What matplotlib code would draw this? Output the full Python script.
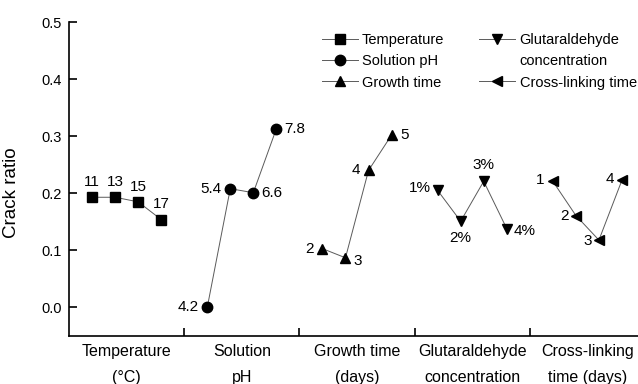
import matplotlib
matplotlib.use("Agg")
import matplotlib.pyplot as plt
from matplotlib.lines import Line2D
import numpy as np

plt.rcParams['font.family'] = ['Liberation Sans', 'DejaVu Sans']

groups = ["Temperature\n(°C)", "Solution\npH", "Growth time\n(days)",
          "Glutaraldehyde\nconcentration", "Cross-linking\ntime (days)"]
series_names = ["Temperature", "Solution pH", "Growth time",
                "Glutaraldehyde", "Cross-linking time"]
markers = ["s", "o", "^", "v", "<"]

temp_vals = [0.193, 0.193, 0.185, 0.154]
temp_labels = ["11", "13", "15", "17"]
ph_vals = [0.000, 0.208, 0.201, 0.313]
ph_labels = ["4.2", "5.4", "6.6", "7.8"]
growth_vals = [0.103, 0.087, 0.240, 0.302]
growth_labels = ["2", "3", "4", "5"]
glut_vals = [0.205, 0.151, 0.221, 0.138]
glut_labels = ["1%", "2%", "3%", "4%"]
cross_vals = [0.221, 0.161, 0.118, 0.223]
cross_labels = ["1", "2", "3", "4"]

all_vals = [temp_vals, ph_vals, growth_vals, glut_vals, cross_vals]
all_labels = [temp_labels, ph_labels, growth_labels, glut_labels, cross_labels]
offsets = [0.2, 0.4, 0.6, 0.8]

# label placement per point: (dx points, dy points, ha, va)
placements = [
    [(0, 6, 'center', 'bottom')] * 4,
    [(-6, 0, 'right', 'center'), (-6, 0, 'right', 'center'),
     (6, 0, 'left', 'center'), (6, 0, 'left', 'center')],
    [(-6, 0, 'right', 'center'), (6, -2, 'left', 'center'),
     (-6, 0, 'right', 'center'), (6, 0, 'left', 'center')],
    [(-5, 2, 'right', 'center'), (0, -7, 'center', 'top'),
     (0, 7, 'center', 'bottom'), (5, -2, 'left', 'center')],
    [(-6, 1, 'right', 'center'), (-5, 0, 'right', 'center'),
     (-5, -1, 'right', 'center'), (-6, 1, 'right', 'center')],
]

fig = plt.figure(figsize=(6.38, 3.84), dpi=100)
ax = fig.add_axes([69/638, 1-336/384, 576/638, (336-22)/384])

handles = []
for i, (vals, labs, m, name) in enumerate(zip(all_vals, all_labels, markers, series_names)):
    xs = [i + o for o in offsets]
    h, = ax.plot(xs, vals, color='#5a5a5a', lw=0.7, marker=m, ms=7.5,
                 mfc='black', mec='black', label=name)
    handles.append(h)
    for x, y, t, (dx, dy, ha, va) in zip(xs, vals, labs, placements[i]):
        ax.annotate(t, (x, y), xytext=(dx, dy), textcoords='offset points',
                    ha=ha, va=va, fontsize=11)

ax.set_xlim(0, 5)
ax.set_ylim(-0.05, 0.5)
yt = np.arange(0, 0.51, 0.1)
ax.set_yticks(yt)
ax.set_yticklabels([f"{v:.1f}" for v in yt])
ax.set_xticks([1, 2, 3, 4])
ax.set_xticklabels([])
ax.set_xticks([i + 0.5 for i in range(5)], minor=True)
ax.set_xticklabels(groups, minor=True, linespacing=1.9)
ax.tick_params(axis='x', which='minor', length=0, pad=6, labelsize=11.5)
ax.tick_params(axis='both', which='major', direction='in', length=6, width=1.2,
               labelsize=10.5, pad=5)
for s in ['top', 'right']:
    ax.spines[s].set_visible(False)
for s in ['left', 'bottom']:
    ax.spines[s].set_linewidth(1.2)
ax.set_ylabel("Crack ratio", fontsize=13.5)
ax.yaxis.set_label_coords(-0.085, 0.455)

# legend: second line of the glutaraldehyde entry as a blank row
blank = Line2D([], [], color='none', marker=None)
leg_handles = handles[:3] + [handles[3], blank, handles[4]]
leg_labels = series_names[:3] + [series_names[3], "concentration", series_names[4]]
leg = fig.legend(leg_handles, leg_labels, ncol=2, frameon=False, loc='upper left',
                 bbox_to_anchor=(322/638, 1-33/384), bbox_transform=fig.transFigure,
                 fontsize=10.5, handlelength=2.45, columnspacing=2.4, labelspacing=0.5,
                 handletextpad=0.3, borderpad=0, borderaxespad=0)

fig.savefig("out.png", dpi=100)
